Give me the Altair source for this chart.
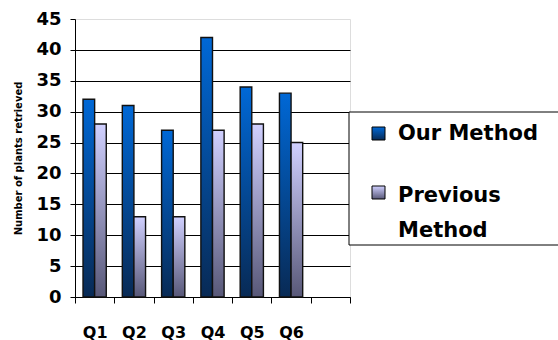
import altair as alt
import pandas as pd

quarters = ["Q1", "Q2", "Q3", "Q4", "Q5", "Q6"]
our_method = [32, 31, 27, 42, 34, 33]
previous_method = [28, 13, 13, 27, 28, 25]
series_names = ["Our Method", "Previous Method"]
x_domain = quarters + [" "]

rows = []
for q, a, b in zip(quarters, our_method, previous_method):
    rows.append({"quarter": q, "series": series_names[0], "value": a})
    rows.append({"quarter": q, "series": series_names[1], "value": b})
df = pd.DataFrame(rows)

FONT = "DejaVu Sans"

grad_our = alt.LinearGradient(
    gradient="linear", x1=0, y1=0, x2=0, y2=1,
    stops=[alt.GradientStop(offset=0, color="#0068d6"),
           alt.GradientStop(offset=1, color="#082a55")])
grad_prev = alt.LinearGradient(
    gradient="linear", x1=0, y1=0, x2=0, y2=1,
    stops=[alt.GradientStop(offset=0, color="#d0d0ff"),
           alt.GradientStop(offset=1, color="#585878")])

bars = alt.Chart(df).mark_bar(stroke="#111111", strokeWidth=1.4).encode(
    x=alt.X("quarter:N", sort=x_domain,
            scale=alt.Scale(domain=x_domain, paddingInner=0, paddingOuter=0),
            axis=alt.Axis(title=None, tickBand="extent", labelAngle=0,
                          labelFont=FONT, labelFontSize=16, labelFontWeight="bold",
                          labelColor="black", labelPadding=21, tickSize=6,
                          tickColor="black", domainColor="black", grid=False)),
    xOffset=alt.XOffset("series:N", scale=alt.Scale(domain=series_names,
                                                    paddingOuter=0.69, paddingInner=0)),
    y=alt.Y("value:Q", scale=alt.Scale(domain=[0, 45], nice=False),
            axis=alt.Axis(title="Number of plants retrieved",
                          values=list(range(0, 46, 5)),
                          titleFont=FONT, titleFontSize=10, titleFontWeight="bold",
                          titleColor="black", titlePadding=12,
                          labelFont=FONT, labelFontSize=18, labelFontWeight="bold",
                          labelColor="black", labelPadding=9, tickSize=5,
                          tickColor="black", domainColor="black",
                          gridColor="black", gridWidth=1,
                          gridOpacity={"condition": {"test": "datum.value === 45", "value": 0},
                                       "value": 1})),
    fill=alt.condition(alt.datum.series == series_names[0],
                       alt.value(grad_our), alt.value(grad_prev)),
)

box = alt.Chart(pd.DataFrame({"a": [0]})).mark_rect(
    fill="white", stroke="black", strokeWidth=1).encode(
    x=alt.value(274), x2=alt.value(490), y=alt.value(93), y2=alt.value(226))

sq1 = alt.Chart(pd.DataFrame({"a": [0]})).mark_rect(
    fill=grad_our, stroke="black", strokeWidth=1).encode(
    x=alt.value(297), x2=alt.value(310), y=alt.value(108), y2=alt.value(121))
sq2 = alt.Chart(pd.DataFrame({"a": [0]})).mark_rect(
    fill=grad_prev, stroke="black", strokeWidth=1).encode(
    x=alt.value(297), x2=alt.value(310), y=alt.value(167), y2=alt.value(180))

legend_text = alt.Chart(pd.DataFrame({
    "t": ["Our Method", "Previous", "Method"],
    "py": [121, 183, 218],
})).mark_text(align="left", baseline="alphabetic", font=FONT, fontSize=21,
              fontWeight="bold", color="black").encode(
    x=alt.value(323), y=alt.Y("py:Q", scale=None), text="t:N")

chart = alt.layer(bars, box, sq1, sq2, legend_text).properties(
    width=275, height=278,
    autosize=alt.AutoSizeParams(type="none"),
    padding={"left": 75, "top": 19, "right": 208, "bottom": 43},
).configure_view(strokeWidth=0).configure(background="white")

chart.save("out.html", embed_options={"renderer": "svg", "actions": False})
